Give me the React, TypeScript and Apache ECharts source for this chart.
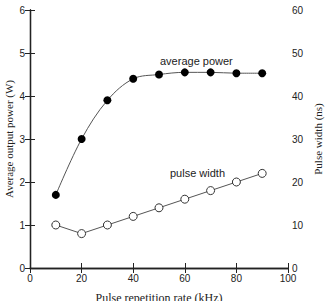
import React, { useEffect, useRef } from "react";
import * as echarts from "echarts";

const rates = [10, 20, 30, 40, 50, 60, 70, 80, 90];
const averagePower = [1.7, 3.0, 3.9, 4.4, 4.5, 4.55, 4.55, 4.53, 4.53];
const pulseWidth = [10, 8, 10, 12, 14, 16, 18, 20, 22];

const serif = "'Liberation Serif', 'DejaVu Serif', serif";
const sans = "'Liberation Sans', Arial, sans-serif";
const ink = "#222";

export default function App() {
  const ref = useRef<HTMLDivElement>(null);

  useEffect(() => {
    if (!ref.current) return;
    const chart = echarts.init(ref.current, null, { renderer: "svg" });
    const axisLine = { show: true, lineStyle: { color: ink, width: 1.3 } };
    const tick = { show: true, inside: true, length: 5, lineStyle: { color: ink, width: 1 } };
    chart.setOption({
      animation: false,
      backgroundColor: "#fff",
      grid: { left: 30, right: 39, top: 10, bottom: 33, outerBoundsMode: "none", containLabel: false },
      xAxis: [
        {
          type: "value",
          min: 0,
          max: 100,
          interval: 20,
          position: "bottom",
          axisLine,
          axisTick: tick,
          splitLine: { show: false },
          axisLabel: { color: ink, fontFamily: sans, fontSize: 10, margin: 5 },
          name: "Pulse repetition rate (kHz)",
          nameLocation: "middle",
          nameGap: 24,
          nameMoveOverlap: false,
          nameTextStyle: { color: ink, fontFamily: serif, fontSize: 12 },
        },
        {
          type: "value",
          min: 0,
          max: 100,
          interval: 20,
          position: "top",
          axisLine,
          axisTick: tick,
          splitLine: { show: false },
          axisLabel: { show: false },
        },
      ],
      yAxis: [
        {
          type: "value",
          min: 0,
          max: 6,
          interval: 1,
          position: "left",
          axisLine,
          axisTick: tick,
          splitLine: { show: false },
          axisLabel: { color: ink, fontFamily: sans, fontSize: 10, margin: 5 },
          name: "Average output power (W)",
          nameLocation: "middle",
          nameGap: 16,
          nameMoveOverlap: false,
          nameTextStyle: { color: ink, fontFamily: serif, fontSize: 11 },
        },
        {
          type: "value",
          min: 0,
          max: 60,
          interval: 10,
          position: "right",
          axisLine,
          axisTick: tick,
          splitLine: { show: false },
          axisLabel: { color: ink, fontFamily: sans, fontSize: 10, margin: 4 },
          name: "Pulse width (ns)",
          nameLocation: "middle",
          nameGap: 24,
          nameMoveOverlap: false,
          nameTextStyle: { color: ink, fontFamily: serif, fontSize: 11 },
        },
      ],
      series: [
        {
          name: "average power",
          type: "line",
          xAxisIndex: 0,
          yAxisIndex: 0,
          data: rates.map((r, i) => [r, averagePower[i]]),
          smooth: 0.35,
          symbol: "circle",
          symbolSize: 8,
          lineStyle: { color: "#555", width: 1 },
          itemStyle: { color: "#000", borderColor: "#000", borderWidth: 0 },
          z: 3,
        },
        {
          name: "pulse width",
          type: "line",
          xAxisIndex: 0,
          yAxisIndex: 1,
          data: rates.map((r, i) => [r, pulseWidth[i]]),
          symbol: "circle",
          symbolSize: 8,
          lineStyle: { color: "#555", width: 1 },
          itemStyle: { color: "#fff", borderColor: "#333", borderWidth: 1 },
          z: 3,
        },
      ],
      graphic: [
        {
          type: "text",
          left: 160,
          top: 55,
          style: { text: "average power", font: `11px ${sans}`, fill: ink },
        },
        {
          type: "text",
          left: 170,
          top: 167,
          style: { text: "pulse width", font: `11px ${sans}`, fill: ink },
        },
      ],
    });
    return () => chart.dispose();
  }, []);

  return (
    <div
      ref={ref}
      style={{ position: "fixed", left: 0, top: 0, width: 327, height: 301 }}
    />
  );
}
